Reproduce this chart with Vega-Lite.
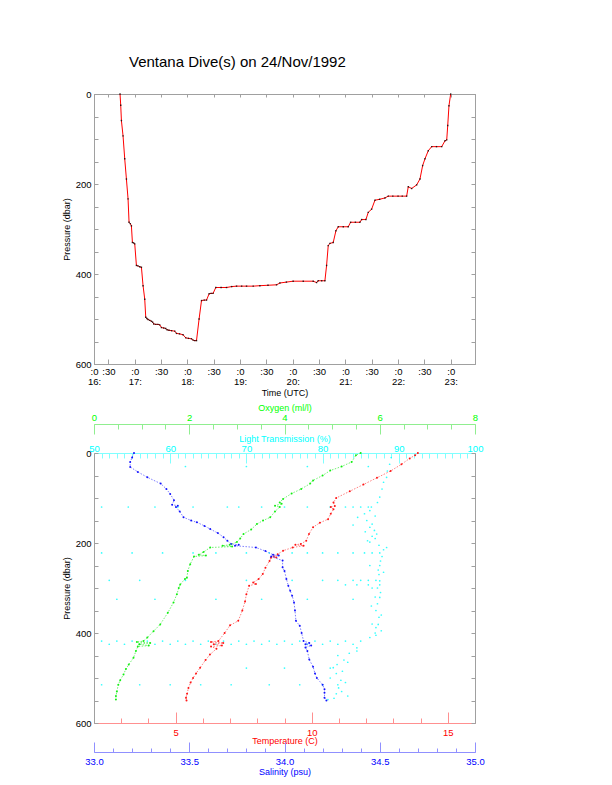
{
  "$schema": "https://vega.github.io/schema/vega-lite/v6.json",
  "padding": {"left": 61, "top": 54, "right": 5, "bottom": 5},
  "background": "white",
  "config": {
    "font": "Liberation Sans",
    "view": {"stroke": "#a0a0a0", "strokeWidth": 1},
    "axis": {"labelFont": "Liberation Sans", "titleFont": "Liberation Sans", "labelFontSize": 9.5, "titleFontSize": 9, "titleFontWeight": "normal", "grid": false, "labelColor": "#000", "titleColor": "#000", "domainColor": "#a0a0a0", "tickColor": "#a0a0a0", "labelFlush": false, "labelOverlap": false}
  },
  "spacing": 4,
  "datasets": {
    "dive": [
      {"t":16.721,"p":0},{"t":16.734,"p":25},{"t":16.747,"p":59},{"t":16.778,"p":93},{"t":16.810,"p":144},{"t":16.842,"p":189},{"t":16.873,"p":233},{"t":16.892,"p":285},{"t":16.915,"p":288},{"t":16.937,"p":293},{"t":16.956,"p":330},{"t":16.980,"p":331},{"t":17.000,"p":333},{"t":17.032,"p":381},{"t":17.060,"p":382},{"t":17.095,"p":384},{"t":17.127,"p":385},{"t":17.158,"p":426},{"t":17.190,"p":456},{"t":17.209,"p":496},{"t":17.230,"p":499},{"t":17.253,"p":501},{"t":17.285,"p":503},{"t":17.317,"p":505},{"t":17.340,"p":507},{"t":17.361,"p":511},{"t":17.400,"p":512},{"t":17.440,"p":512},{"t":17.475,"p":513},{"t":17.507,"p":519},{"t":17.550,"p":520},{"t":17.589,"p":521},{"t":17.614,"p":524},{"t":17.650,"p":525},{"t":17.700,"p":526},{"t":17.760,"p":527},{"t":17.792,"p":532},{"t":17.850,"p":533},{"t":17.918,"p":535},{"t":17.969,"p":542},{"t":18.020,"p":543},{"t":18.078,"p":544},{"t":18.108,"p":547},{"t":18.140,"p":548},{"t":18.173,"p":548},{"t":18.222,"p":500},{"t":18.268,"p":459},{"t":18.320,"p":458},{"t":18.363,"p":458},{"t":18.412,"p":444},{"t":18.450,"p":443},{"t":18.488,"p":443},{"t":18.539,"p":430},{"t":18.640,"p":430},{"t":18.743,"p":430},{"t":18.840,"p":428},{"t":18.933,"p":427},{"t":19.030,"p":427},{"t":19.123,"p":427},{"t":19.250,"p":427},{"t":19.376,"p":426},{"t":19.530,"p":425},{"t":19.693,"p":424},{"t":19.756,"p":420},{"t":19.880,"p":418},{"t":20.008,"p":416},{"t":20.200,"p":416},{"t":20.389,"p":416},{"t":20.453,"p":419},{"t":20.483,"p":415},{"t":20.550,"p":415},{"t":20.611,"p":415},{"t":20.643,"p":381},{"t":20.674,"p":337},{"t":20.706,"p":332},{"t":20.769,"p":330},{"t":20.820,"p":304},{"t":20.864,"p":295},{"t":20.960,"p":295},{"t":21.054,"p":295},{"t":21.099,"p":285},{"t":21.190,"p":285},{"t":21.276,"p":285},{"t":21.308,"p":279},{"t":21.390,"p":279},{"t":21.434,"p":263},{"t":21.498,"p":256},{"t":21.561,"p":236},{"t":21.650,"p":234},{"t":21.751,"p":231},{"t":21.814,"p":227},{"t":21.900,"p":227},{"t":22.000,"p":227},{"t":22.080,"p":227},{"t":22.163,"p":227},{"t":22.194,"p":206},{"t":22.258,"p":210},{"t":22.353,"p":202},{"t":22.416,"p":189},{"t":22.467,"p":159},{"t":22.511,"p":144},{"t":22.574,"p":126},{"t":22.639,"p":117},{"t":22.730,"p":117},{"t":22.829,"p":117},{"t":22.891,"p":104},{"t":22.924,"p":102},{"t":22.943,"p":70},{"t":22.967,"p":26},{"t":22.999,"p":0}
    ],
    "temp": [
      {"p":0,"v":13.9},{"p":5,"v":13.8},{"p":12,"v":13.6},{"p":25,"v":13.3},{"p":40,"v":12.9},{"p":55,"v":12.4},{"p":70,"v":11.9},{"p":85,"v":11.4},{"p":100,"v":10.9},{"p":110,"v":10.8},{"p":118,"v":10.85},{"p":120,"v":10.7},{"p":125,"v":10.8},{"p":135,"v":10.7},{"p":147,"v":10.6},{"p":155,"v":10.3},{"p":165,"v":10.05},{"p":180,"v":9.9},{"p":195,"v":9.8},{"p":202,"v":9.6},{"p":204,"v":9.4},{"p":206,"v":9.7},{"p":210,"v":9.3},{"p":217,"v":8.95},{"p":225,"v":8.75},{"p":230,"v":8.6},{"p":232,"v":8.7},{"p":233,"v":8.5},{"p":240,"v":8.45},{"p":255,"v":8.3},{"p":269,"v":8.2},{"p":280,"v":8.05},{"p":288,"v":7.85},{"p":291,"v":7.95},{"p":295,"v":7.7},{"p":314,"v":7.6},{"p":330,"v":7.55},{"p":350,"v":7.45},{"p":373,"v":7.3},{"p":383,"v":7.0},{"p":400,"v":6.8},{"p":418,"v":6.57},{"p":420,"v":6.3},{"p":422,"v":6.75},{"p":425,"v":6.4},{"p":428,"v":6.7},{"p":430,"v":6.3},{"p":435,"v":6.5},{"p":448,"v":6.26},{"p":460,"v":6.1},{"p":477,"v":5.9},{"p":490,"v":5.75},{"p":500,"v":5.64},{"p":510,"v":5.55},{"p":522,"v":5.47},{"p":535,"v":5.42},{"p":544,"v":5.38},{"p":550,"v":5.4}
    ],
    "sal": [
      {"p":0,"v":33.21},{"p":10,"v":33.2},{"p":20,"v":33.19},{"p":31,"v":33.19},{"p":42,"v":33.23},{"p":54,"v":33.28},{"p":68,"v":33.35},{"p":80,"v":33.38},{"p":91,"v":33.4},{"p":105,"v":33.42},{"p":115,"v":33.41},{"p":117,"v":33.44},{"p":120,"v":33.43},{"p":130,"v":33.45},{"p":143,"v":33.47},{"p":150,"v":33.51},{"p":154,"v":33.54},{"p":162,"v":33.58},{"p":169,"v":33.61},{"p":178,"v":33.65},{"p":187,"v":33.68},{"p":195,"v":33.7},{"p":202,"v":33.72},{"p":204,"v":33.76},{"p":206,"v":33.74},{"p":210,"v":33.85},{"p":218,"v":33.9},{"p":226,"v":33.94},{"p":228,"v":33.97},{"p":230,"v":33.93},{"p":239,"v":33.99},{"p":254,"v":33.99},{"p":262,"v":34.0},{"p":280,"v":34.01},{"p":295,"v":34.02},{"p":306,"v":34.03},{"p":317,"v":34.04},{"p":332,"v":34.05},{"p":350,"v":34.055},{"p":373,"v":34.06},{"p":384,"v":34.08},{"p":400,"v":34.09},{"p":418,"v":34.1},{"p":422,"v":34.13},{"p":425,"v":34.11},{"p":428,"v":34.14},{"p":432,"v":34.11},{"p":440,"v":34.12},{"p":459,"v":34.13},{"p":475,"v":34.15},{"p":490,"v":34.16},{"p":500,"v":34.17},{"p":515,"v":34.2},{"p":525,"v":34.21},{"p":533,"v":34.21},{"p":544,"v":34.21},{"p":550,"v":34.22}
    ],
    "oxy": [
      {"p":0,"v":5.6},{"p":5,"v":5.5},{"p":20,"v":5.41},{"p":30,"v":5.2},{"p":39,"v":4.96},{"p":50,"v":4.8},{"p":61,"v":4.6},{"p":68,"v":4.54},{"p":80,"v":4.35},{"p":90,"v":4.15},{"p":102,"v":3.97},{"p":110,"v":3.9},{"p":113,"v":3.94},{"p":117,"v":3.8},{"p":120,"v":3.9},{"p":130,"v":3.8},{"p":143,"v":3.7},{"p":150,"v":3.55},{"p":158,"v":3.42},{"p":170,"v":3.3},{"p":180,"v":3.14},{"p":190,"v":3.07},{"p":198,"v":3.0},{"p":204,"v":2.85},{"p":206,"v":2.7},{"p":208,"v":2.9},{"p":210,"v":2.44},{"p":220,"v":2.3},{"p":226,"v":2.2},{"p":228,"v":2.35},{"p":230,"v":2.1},{"p":247,"v":2.02},{"p":262,"v":1.97},{"p":277,"v":1.95},{"p":280,"v":1.91},{"p":292,"v":1.81},{"p":300,"v":1.78},{"p":314,"v":1.74},{"p":332,"v":1.67},{"p":355,"v":1.55},{"p":381,"v":1.39},{"p":396,"v":1.25},{"p":410,"v":1.12},{"p":418,"v":1.04},{"p":420,"v":0.9},{"p":422,"v":1.18},{"p":425,"v":0.95},{"p":428,"v":1.15},{"p":430,"v":0.92},{"p":440,"v":0.88},{"p":455,"v":0.83},{"p":470,"v":0.73},{"p":480,"v":0.67},{"p":492,"v":0.62},{"p":505,"v":0.55},{"p":515,"v":0.51},{"p":530,"v":0.48},{"p":540,"v":0.46},{"p":548,"v":0.46}
    ],
    "lt": [
      {"p":10,"v":89},{"p":25,"v":88.8},{"p":40,"v":88.5},{"p":54,"v":88.4},{"p":65,"v":88.0},{"p":80,"v":87.8},{"p":98,"v":87.5},{"p":110,"v":87.2},{"p":128,"v":86.2},{"p":135,"v":85.5},{"p":143,"v":84.6},{"p":150,"v":85.8},{"p":158,"v":86.5},{"p":165,"v":86.2},{"p":172,"v":86.8},{"p":180,"v":87.1},{"p":190,"v":86.9},{"p":198,"v":86.2},{"p":205,"v":87.4},{"p":210,"v":88.4},{"p":215,"v":88.0},{"p":230,"v":87.8},{"p":240,"v":87.6},{"p":250,"v":87.5},{"p":260,"v":87.3},{"p":270,"v":87.4},{"p":284,"v":87.5},{"p":300,"v":87.2},{"p":310,"v":87.6},{"p":321,"v":87.5},{"p":335,"v":87.2},{"p":350,"v":87.0},{"p":365,"v":87.4},{"p":381,"v":87.3},{"p":388,"v":87.0},{"p":400,"v":86.9},{"p":410,"v":86.2},{"p":433,"v":84.5},{"p":445,"v":83.5},{"p":460,"v":82.8},{"p":477,"v":81.4},{"p":490,"v":81.8},{"p":505,"v":82.4},{"p":522,"v":82.1},{"p":535,"v":81.8},{"p":545,"v":81.5},
      {"p":140,"v":86.9},{"p":160,"v":84.0},{"p":175,"v":85.6},{"p":185,"v":86.5},{"p":195,"v":85.9},{"p":250,"v":86.2},{"p":265,"v":88.0},{"p":300,"v":86.5},{"p":320,"v":86.9},{"p":340,"v":86.4},{"p":360,"v":87.7},{"p":380,"v":86.5},{"p":395,"v":87.7},{"p":405,"v":87.0},{"p":440,"v":84.5},{"p":450,"v":82.0},{"p":465,"v":83.3},{"p":470,"v":81.9},{"p":485,"v":82.6},{"p":500,"v":81.0},{"p":510,"v":83.0},{"p":530,"v":82.5},{"p":540,"v":83.3},{"p":548,"v":80.7},
      {"p":120,"v":51},{"p":120,"v":54.5},{"p":120,"v":58},{"p":120,"v":61},{"p":120,"v":63},{"p":120,"v":67.5},{"p":120,"v":69},{"p":120,"v":72},{"p":120,"v":75},{"p":120,"v":78},{"p":120,"v":81},{"p":120,"v":83},{"p":120,"v":84},{"p":120,"v":85},{"p":120,"v":86},{"p":120,"v":86.4},
      {"p":222,"v":51},{"p":222,"v":55},{"p":222,"v":59},{"p":222,"v":63},{"p":222,"v":66},{"p":222,"v":70},{"p":222,"v":73},{"p":222,"v":76},{"p":222,"v":78},{"p":222,"v":80},{"p":222,"v":82},{"p":222,"v":84},{"p":222,"v":85.5},{"p":222,"v":86.5},{"p":222,"v":87.5},
      {"p":283,"v":52},{"p":283,"v":56},{"p":283,"v":62},{"p":283,"v":70},{"p":283,"v":76},{"p":283,"v":80},{"p":283,"v":82},{"p":283,"v":84},{"p":283,"v":85},{"p":283,"v":86},{"p":283,"v":87},
      {"p":293,"v":83},{"p":293,"v":84.5},{"p":293,"v":86},{"p":293,"v":87.5},
      {"p":418,"v":51},{"p":418,"v":53},{"p":418,"v":55},{"p":418,"v":57},{"p":418,"v":59},{"p":418,"v":61},{"p":418,"v":63},{"p":418,"v":65},{"p":418,"v":67},{"p":418,"v":69},{"p":418,"v":71},{"p":418,"v":73},{"p":418,"v":75},{"p":418,"v":77},{"p":418,"v":79},{"p":418,"v":81},{"p":418,"v":83},{"p":418,"v":85},
      {"p":425,"v":52},{"p":425,"v":54},{"p":425,"v":56},{"p":425,"v":58},{"p":425,"v":60},{"p":425,"v":62},{"p":425,"v":64},{"p":425,"v":66},{"p":425,"v":68},{"p":425,"v":70},{"p":425,"v":72},{"p":425,"v":74},{"p":425,"v":76},{"p":425,"v":78},{"p":425,"v":80},{"p":425,"v":82},{"p":425,"v":84},
      {"p":515,"v":51},{"p":515,"v":56},{"p":515,"v":60},{"p":515,"v":64},{"p":515,"v":68},{"p":515,"v":73},{"p":515,"v":77},{"p":515,"v":80},{"p":515,"v":82},
      {"p":30,"v":62},{"p":30,"v":70},{"p":30,"v":78},{"p":30,"v":86},
      {"p":325,"v":53},{"p":325,"v":58},{"p":325,"v":66},{"p":325,"v":72},{"p":325,"v":78},{"p":325,"v":84},
      {"p":478,"v":70},{"p":478,"v":75},{"p":478,"v":81}
    ]
  },
  "vconcat": [
    {
      "width": 381,
      "height": 270,
      "title": {"text": "Ventana Dive(s) on 24/Nov/1992", "anchor": "start", "frame": "group", "dx": 35, "offset": 7, "fontSize": 15, "fontWeight": "normal", "font": "Liberation Sans", "baseline": "alphabetic", "color": "#000"},
      "data": {"name": "dive"},
      "layer": [
        {
          "mark": {"type": "line", "color": "#ff0000", "strokeWidth": 1},
          "encoding": {
            "x": {"field": "t", "type": "quantitative", "scale": {"domain": [16.2265, 23.461], "nice": false, "zero": false},
              "axis": {"orient": "bottom", "values": [16.2265, 16.5, 17, 17.5, 18, 18.5, 19, 19.5, 20, 20.5, 21, 21.5, 22, 22.5, 23], "labelExpr": "datum.value < 16.3 ? [':0', '16:'] : (round(datum.value * 2) % 2 == 0 ? [':0', round(datum.value) + ':'] : [':30', ''])", "tickSize": -5, "labelPadding": 7, "labelLineHeight": 10, "title": "Time (UTC)", "titlePadding": 3}},
            "y": {"field": "p", "type": "quantitative", "scale": {"domain": [0, 600], "reverse": true, "nice": false, "zero": false},
              "axis": {"orient": "left", "values": [0,50,100,150,200,250,300,350,400,450,500,550,600], "labelExpr": "datum.value % 200 == 0 ? datum.label : ''", "tickSize": -4, "labelPadding": 7, "title": "Pressure (dbar)", "titlePadding": 4}}
          }
        },
        {
          "mark": {"type": "point", "filled": true, "shape": "square", "size": 2, "color": "#000", "opacity": 0.8},
          "encoding": {
            "x": {"field": "t", "type": "quantitative", "axis": {"orient": "top", "values": [16.5, 17, 17.5, 18, 18.5, 19, 19.5, 20, 20.5, 21, 21.5, 22, 22.5, 23], "labels": false, "tickSize": -3, "title": null}},
            "y": {"field": "p", "type": "quantitative", "axis": {"orient": "right", "values": [0,50,100,150,200,250,300,350,400,450,500,550,600], "labels": false, "tickSize": -4, "title": null}}
          }
        }
      ],
      "resolve": {"axis": {"x": "independent", "y": "independent"}}
    },
    {
      "width": 381,
      "height": 270,
      "layer": [
        {
          "data": {"name": "lt"},
          "mark": {"type": "point", "filled": true, "shape": "circle", "size": 3, "color": "#00ffff", "opacity": 0.8},
          "encoding": {
            "x": {"field": "v", "type": "quantitative", "scale": {"domain": [50, 100], "nice": false, "zero": false},
              "axis": {"orient": "top", "offset": 0, "values": [50,60,70,80,90,100], "tickSize": -10, "labelPadding": 10, "labelColor": "#00ffff", "tickColor": "#80ffff", "domainColor": "#80ffff", "title": "Light Transmission (%)", "titleColor": "#00ffff", "titlePadding": 0}},
            "y": {"field": "p", "type": "quantitative", "scale": {"domain": [0, 600], "reverse": true, "nice": false, "zero": false}, "axis": null}
          }
        },
        {
          "data": {"name": "lt"},
          "mark": {"type": "point", "opacity": 0},
          "encoding": {
            "x": {"field": "v", "type": "quantitative", "scale": {"domain": [50, 100], "nice": false, "zero": false},
              "axis": {"orient": "top", "offset": 0, "values": [50,51,52,53,54,55,56,57,58,59,60,61,62,63,64,65,66,67,68,69,70,71,72,73,74,75,76,77,78,79,80,81,82,83,84,85,86,87,88,89,90,91,92,93,94,95,96,97,98,99,100], "tickSize": -5, "labels": false, "domain": false, "tickColor": "#80ffff", "title": null}},
            "y": {"field": "p", "type": "quantitative", "axis": null}
          }
        },
        {
          "data": {"name": "temp"},
          "mark": {"type": "line", "color": "#ff6060", "strokeWidth": 1, "opacity": 0.8, "strokeDash": [1.5, 1.5]},
          "encoding": {
            "order": {"field": "p", "type": "quantitative"},
            "x": {"field": "v", "type": "quantitative", "scale": {"domain": [2, 16], "nice": false, "zero": false},
              "axis": {"orient": "bottom", "offset": 0, "values": [5, 10, 15], "tickSize": -11, "labelPadding": 15, "labelColor": "#ff0000", "tickColor": "#ff9090", "domainColor": "#ff9090", "title": "Temperature (C)", "titleColor": "#ff0000", "titlePadding": 0}},
            "y": {"field": "p", "type": "quantitative",
              "axis": {"orient": "left", "values": [0,50,100,150,200,250,300,350,400,450,500,550,600], "labelExpr": "datum.value % 200 == 0 ? datum.label : ''", "tickSize": -4, "labelPadding": 7, "title": "Pressure (dbar)", "titlePadding": 4}}
          }
        },
        {
          "data": {"name": "temp"},
          "mark": {"type": "point", "filled": true, "shape": "circle", "size": 4, "color": "#ff0000", "opacity": 0.9},
          "encoding": {
            "x": {"field": "v", "type": "quantitative", "scale": {"domain": [2, 16], "nice": false, "zero": false},
              "axis": {"orient": "bottom", "offset": 0, "values": [2,3,4,5,6,7,8,9,10,11,12,13,14,15,16], "tickSize": -5, "labels": false, "domain": false, "tickColor": "#ff9090", "title": null}},
            "y": {"field": "p", "type": "quantitative",
              "axis": {"orient": "right", "values": [0,50,100,150,200,250,300,350,400,450,500,550,600], "labels": false, "tickSize": -4, "title": null}}
          }
        },
        {
          "data": {"name": "sal"},
          "mark": {"type": "line", "color": "#6060ff", "strokeWidth": 1, "opacity": 0.8, "strokeDash": [1.5, 1.5]},
          "encoding": {
            "order": {"field": "p", "type": "quantitative"},
            "x": {"field": "v", "type": "quantitative", "scale": {"domain": [33, 35], "nice": false, "zero": false},
              "axis": {"orient": "bottom", "offset": 29, "values": [33, 33.5, 34, 34.5, 35], "format": ".1f", "tickSize": -10, "labelPadding": 14, "labelColor": "#0000ff", "tickColor": "#9090ff", "domainColor": "#9090ff", "title": "Salinity (psu)", "titleColor": "#0000ff", "titlePadding": 2}},
            "y": {"field": "p", "type": "quantitative", "axis": null}
          }
        },
        {
          "data": {"name": "sal"},
          "mark": {"type": "point", "filled": true, "shape": "circle", "size": 4, "color": "#0000ff", "opacity": 0.9},
          "encoding": {
            "x": {"field": "v", "type": "quantitative", "scale": {"domain": [33, 35], "nice": false, "zero": false},
              "axis": {"orient": "bottom", "offset": 29, "values": [33,33.1,33.2,33.3,33.4,33.5,33.6,33.7,33.8,33.9,34,34.1,34.2,34.3,34.4,34.5,34.6,34.7,34.8,34.9,35], "tickSize": -4, "labels": false, "domain": false, "tickColor": "#9090ff", "title": null}},
            "y": {"field": "p", "type": "quantitative", "axis": null}
          }
        },
        {
          "data": {"name": "oxy"},
          "mark": {"type": "line", "color": "#50ee50", "strokeWidth": 1, "opacity": 0.8, "strokeDash": [1.5, 1.5]},
          "encoding": {
            "order": {"field": "p", "type": "quantitative"},
            "x": {"field": "v", "type": "quantitative", "scale": {"domain": [0, 8], "nice": false, "zero": false},
              "axis": {"orient": "top", "offset": 29, "values": [0, 2, 4, 6, 8], "tickSize": -10, "labelPadding": 12, "labelColor": "#00ff00", "tickColor": "#90ee90", "domainColor": "#90ee90", "title": "Oxygen (ml/l)", "titleColor": "#00ff00", "titlePadding": 0}},
            "y": {"field": "p", "type": "quantitative", "axis": null}
          }
        },
        {
          "data": {"name": "oxy"},
          "mark": {"type": "point", "filled": true, "shape": "circle", "size": 4, "color": "#00ee00", "opacity": 0.9},
          "encoding": {
            "x": {"field": "v", "type": "quantitative", "scale": {"domain": [0, 8], "nice": false, "zero": false},
              "axis": {"orient": "top", "offset": 29, "values": [0,0.5,1,1.5,2,2.5,3,3.5,4,4.5,5,5.5,6,6.5,7,7.5,8], "tickSize": -5, "labels": false, "domain": false, "tickColor": "#90ee90", "title": null}},
            "y": {"field": "p", "type": "quantitative", "axis": null}
          }
        }
      ],
      "resolve": {"scale": {"x": "independent"}, "axis": {"x": "independent", "y": "independent"}}
    }
  ]
}
